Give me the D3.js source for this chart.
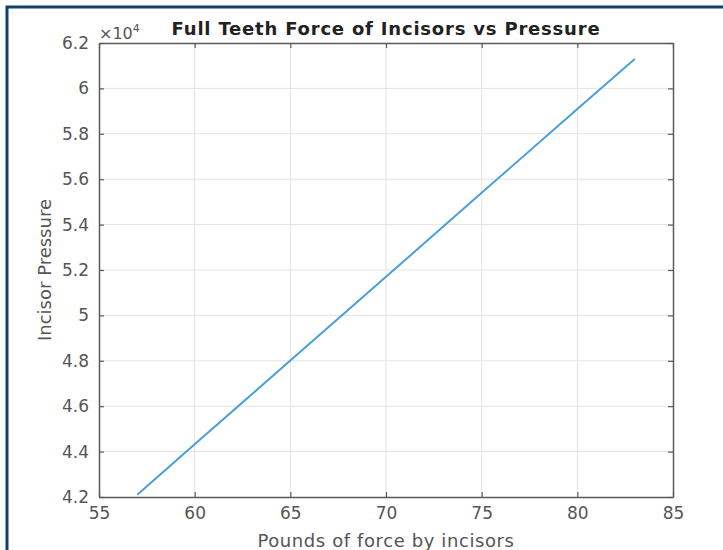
<!DOCTYPE html>
<html>
<head>
<meta charset="utf-8">
<script src="https://cdn.jsdelivr.net/npm/d3@7"></script>
<style>
body { margin:0; background:#fff; }
svg text { font-family: "DejaVu Sans", sans-serif; }
</style>
</head>
<body>
<div id="chart"></div>
<script>
// pounds of force vs incisor pressure
var force = [57, 60, 65, 70, 75, 80, 83];
var pressure = [42100, 44320, 48010, 51700, 55400, 59090, 61300];

var xTicks = [55, 60, 65, 70, 75, 80, 85];
var yTicks = [42000, 44000, 46000, 48000, 50000, 52000, 54000, 56000, 58000, 60000, 62000];

var width = 723, height = 550;
var mLeft = 99, mRight = 673, mTop = 43, mBottom = 497;

var svg = d3.select("#chart").append("svg")
    .attr("width", width)
    .attr("height", height);

// frame round the picture
svg.append("path")
    .attr("d", "M7,550 L7,7 L723,7")
    .attr("fill", "none")
    .attr("stroke", "#133e6e")
    .attr("stroke-width", 3);

var x = d3.scaleLinear().domain([55, 85]).range([mLeft, mRight]);
var y = d3.scaleLinear().domain([42000, 62000]).range([mBottom, mTop]);

// grid
svg.append("g").selectAll("line")
    .data(xTicks.slice(1, -1))
    .enter().append("line")
    .attr("x1", d => x(d)).attr("x2", d => x(d))
    .attr("y1", mTop).attr("y2", mBottom)
    .attr("stroke", "#e3e3e3").attr("stroke-width", 1);
svg.append("g").selectAll("line")
    .data(yTicks.slice(1, -1))
    .enter().append("line")
    .attr("x1", mLeft).attr("x2", mRight)
    .attr("y1", d => y(d)).attr("y2", d => y(d))
    .attr("stroke", "#e3e3e3").attr("stroke-width", 1);

// axes, ticks point inward
var fmtY = d => String(+(d / 1e4).toFixed(1));
function styleAxis(g) {
    g.select(".domain").attr("stroke", "#5a5a5a").attr("stroke-width", 1.5);
    g.selectAll(".tick line").attr("stroke", "#5a5a5a").attr("stroke-width", 1.2);
    g.selectAll(".tick text").attr("fill", "#555")
        .style("font-family", "DejaVu Sans, sans-serif").style("font-size", "17px");
}

svg.append("g")
    .attr("transform", `translate(0,${mBottom})`)
    .call(d3.axisBottom(x).tickValues(xTicks).tickSizeInner(-5).tickSizeOuter(0).tickPadding(10))
    .call(styleAxis);
svg.append("g")
    .attr("transform", `translate(0,${mTop})`)
    .call(d3.axisTop(x).tickValues(xTicks).tickSizeInner(-5).tickSizeOuter(0).tickFormat(""))
    .call(styleAxis);
svg.append("g")
    .attr("transform", `translate(${mLeft},0)`)
    .call(d3.axisLeft(y).tickValues(yTicks).tickSizeInner(-5).tickSizeOuter(0).tickPadding(10).tickFormat(fmtY))
    .call(styleAxis);
svg.append("g")
    .attr("transform", `translate(${mRight},0)`)
    .call(d3.axisRight(y).tickValues(yTicks).tickSizeInner(-5).tickSizeOuter(0).tickFormat(""))
    .call(styleAxis);

// the line
var line = d3.line().x((d, i) => x(force[i])).y(d => y(d));
svg.append("path")
    .datum(pressure)
    .attr("d", line)
    .attr("fill", "none")
    .attr("stroke", "#4a9fd9")
    .attr("stroke-width", 2);

// exponent label
var ex = svg.append("text")
    .attr("x", mLeft).attr("y", 39)
    .attr("fill", "#555")
    .style("font-size", "16px");
ex.append("tspan").text("\u00d710");
ex.append("tspan").attr("dy", -7).style("font-size", "11px").text("4");

// titles
svg.append("text")
    .attr("x", (mLeft + mRight) / 2).attr("y", 35)
    .attr("text-anchor", "middle")
    .attr("fill", "#222")
    .style("font-size", "18px").style("font-weight", "bold")
    .style("letter-spacing", "0.8px")
    .text("Full Teeth Force of Incisors vs Pressure");

svg.append("text")
    .attr("x", (mLeft + mRight) / 2).attr("y", 547)
    .attr("text-anchor", "middle")
    .attr("fill", "#555")
    .style("font-size", "18px")
    .style("letter-spacing", "0.6px")
    .text("Pounds of force by incisors");

svg.append("text")
    .attr("transform", `translate(51,${(mTop + mBottom) / 2}) rotate(-90)`)
    .attr("text-anchor", "middle")
    .attr("fill", "#555")
    .style("font-size", "18px")
    .text("Incisor Pressure");
</script>
</body>
</html>
